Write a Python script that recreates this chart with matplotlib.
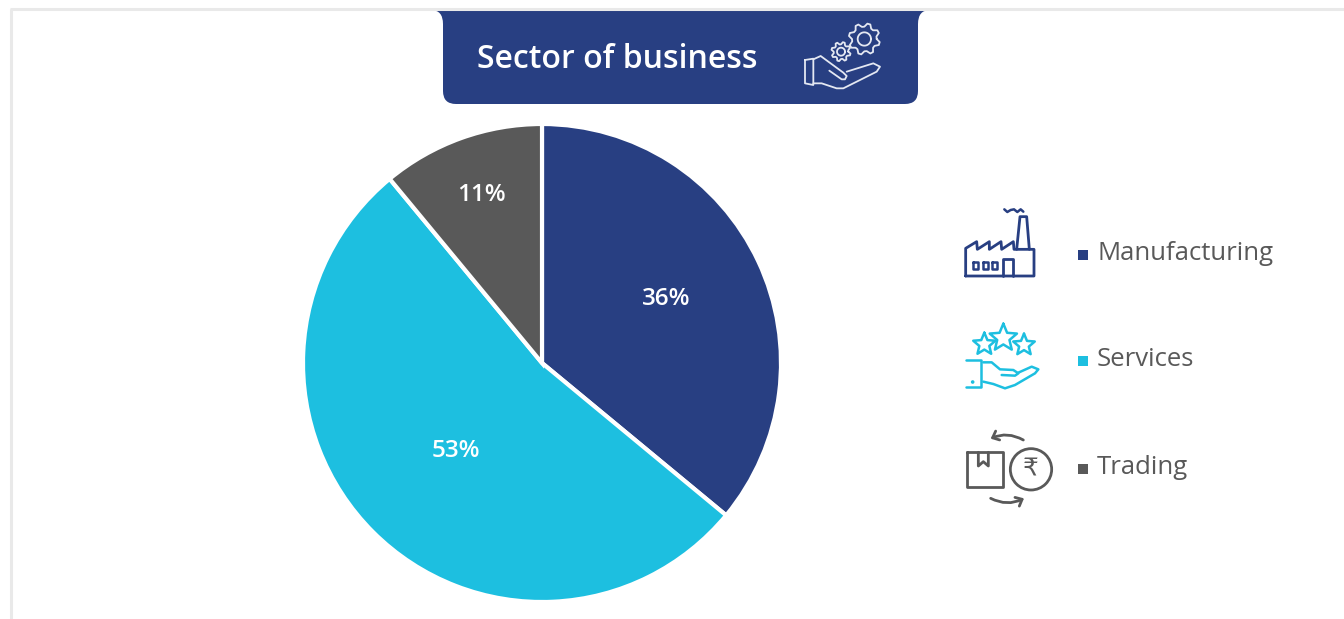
import numpy as np
import matplotlib
matplotlib.use("Agg")
import matplotlib.pyplot as plt
from matplotlib.patches import PathPatch, Rectangle, Circle, Polygon, FancyArrowPatch
from matplotlib.path import Path

# Share of businesses by sector
sectors = ["Manufacturing", "Services", "Trading"]
shares = [36, 53, 11]
share_labels = ["36%", "53%", "11%"]
title = "Sector of business"

NAVY = "#283F82"
CYAN = "#1DBFE0"
GREY = "#595959"
colors = [NAVY, CYAN, GREY]
FONT = ["Open Sans", "DejaVu Sans"]

W, H = 1344, 619
fig = plt.figure(figsize=(W / 100, H / 100), dpi=100, facecolor="white")

# Pixel-addressed layer for the frame, banner, icons and legend
bg = fig.add_axes([0, 0, 1, 1])
bg.set_xlim(0, W)
bg.set_ylim(H, 0)
bg.axis("off")

# Pie axes: centre (542, 363), radius 239 px
cx, cy, r = 542, 363, 239
pie_ax = fig.add_axes([(cx - r) / W, 1 - (cy + r) / H, 2 * r / W, 2 * r / H])
pie_ax.pie(shares, colors=colors, startangle=90, counterclock=False,
           wedgeprops={"edgecolor": "white", "linewidth": 3})
pie_ax.set_xlim(-1, 1)
pie_ax.set_ylim(-1, 1)
pie_ax.patch.set_alpha(0)

# Overlay above the pie for its value labels
top = fig.add_axes([0, 0, 1, 1])
top.set_xlim(0, W)
top.set_ylim(H, 0)
top.axis("off")
top.patch.set_alpha(0)
label_xy = [(666, 299), (456, 451), (481, 195)]
for txt, (x, y) in zip(share_labels, label_xy):
    top.text(x, y, txt, color="white", fontsize=17.5, fontweight="semibold",
             family=FONT, ha="center", va="center")

# Frame lines along the top and left edges
bg.plot([10, W], [9, 9], color="#E9E9E9", lw=2.2, solid_capstyle="butt")
bg.plot([11, 11], [9, H], color="#E9E9E9", lw=2.2, solid_capstyle="butt")

# Title banner with flared top corners and rounded bottom corners
L, R, T, B = 443, 918, 10, 104
verts = [(431, T), (R + 12, T),
         (R, T), (R, T + 14),
         (R, B - 13),
         (R, B), (R - 13, B),
         (L + 13, B),
         (L, B), (L, B - 13),
         (L, T + 14),
         (L, T), (431, T), (431, T)]
codes = [Path.MOVETO, Path.LINETO, Path.CURVE3, Path.CURVE3, Path.LINETO,
         Path.CURVE3, Path.CURVE3, Path.LINETO, Path.CURVE3, Path.CURVE3,
         Path.LINETO, Path.CURVE3, Path.CURVE3, Path.CLOSEPOLY]
bg.add_patch(PathPatch(Path(verts, codes), facecolor=NAVY, edgecolor="none"))
bg.text(617, 59, title, color="white", fontsize=23, fontweight="semibold",
        family=FONT, ha="center", va="center")


def mapper(ox, oy, scale=1 / 3):
    """Convert icon-local units to figure pixels."""
    return lambda pts: [(ox + x * scale, oy + y * scale) for x, y in pts]


def stroke(m, pts, color, lw=2.0, closed=False):
    p = m(pts)
    if closed:
        p = p + [p[0]]
    xs, ys = zip(*p)
    bg.plot(xs, ys, color=color, lw=lw, solid_joinstyle="round",
            solid_capstyle="round")


def gear(m, x, y, ro, ri, hole, teeth, color, lw):
    angles = np.arange(teeth * 4) * 2 * np.pi / (teeth * 4)
    radii = np.tile([ri, ro, ro, ri], teeth)
    pts = list(zip(x + radii * np.cos(angles), y + radii * np.sin(angles)))
    stroke(m, pts, color, lw, closed=True)
    a = np.linspace(0, 2 * np.pi, 40)
    stroke(m, list(zip(x + hole * np.cos(a), y + hole * np.sin(a))), color, lw)


def star(m, x, y, ro, color, lw):
    a = -np.pi / 2 + np.arange(10) * np.pi / 5
    radii = np.tile([ro, ro * 0.45], 5)
    pts = list(zip(x + radii * np.cos(a), y + radii * np.sin(a)))
    stroke(m, pts, color, lw, closed=True)


# Banner icon: open hand holding two gears
m = mapper(430, 0)
c = "#E4E8F2"
gear(m, 1303, 117, 47, 37, 20, 8, c, 1.3)
gear(m, 1233, 155, 29, 22, 12, 8, c, 1.3)
stroke(m, [(1125, 180), (1150, 176), (1150, 255), (1125, 250)], c, 1.3, closed=True)
stroke(m, [(1150, 178), (1172, 168), (1195, 185), (1240, 218), (1250, 228), (1245, 238),
           (1235, 238), (1198, 212)], c, 1.3)
stroke(m, [(1250, 215), (1330, 190), (1350, 200), (1340, 215), (1240, 265),
           (1220, 265), (1175, 250), (1150, 250)], c, 1.3)

# Manufacturing icon: factory with chimney and smoke
m = mapper(950, 200)
stroke(m, [(47, 228), (47, 145), (80, 125), (82, 148), (118, 125), (118, 148),
           (153, 125), (155, 148), (190, 125), (192, 148), (252, 148), (252, 228)],
       NAVY, 2.0, closed=True)
stroke(m, [(200, 148), (210, 50), (230, 50), (238, 148)], NAVY, 2.0)
stroke(m, [(163, 28), (172, 36), (182, 30), (192, 28), (202, 36), (212, 28), (220, 35)], NAVY, 1.8)
for wx in (70, 98, 125):
    stroke(m, [(wx, 187), (wx + 15, 187), (wx + 15, 207), (wx, 207)], NAVY, 1.8, closed=True)
stroke(m, [(158, 228), (158, 178), (188, 178), (188, 228)], NAVY, 2.0)

# Services icon: hand holding three stars
m = mapper(950, 310)
star(m, 103, 103, 35, CYAN, 1.8)
star(m, 160, 84, 43, CYAN, 1.8)
star(m, 222, 105, 34, CYAN, 1.8)
stroke(m, [(48, 150), (92, 150), (92, 232), (48, 232)], CYAN, 1.8)
stroke(m, [(100, 157), (125, 157), (150, 178), (190, 180), (205, 190), (195, 197), (155, 195)], CYAN, 1.8)
stroke(m, [(205, 188), (245, 170), (265, 178), (255, 190), (195, 225), (165, 235),
           (130, 222), (100, 215)], CYAN, 1.8)
bg.add_patch(Circle(m([(68, 216)])[0], 1.1, color=CYAN))

# Trading icon: parcel and rupee coin linked by arrows
m = mapper(950, 420)
stroke(m, [(50, 97), (158, 97), (158, 200), (50, 200)], GREY, 2.0, closed=True)
stroke(m, [(85, 97), (85, 138), (100, 125), (115, 138), (115, 97)], GREY, 2.0)
bx, by = m([(243, 148)])[0]
bg.add_patch(Circle((bx, by), 62 / 3, facecolor="none", edgecolor=GREY, lw=2.0))
bg.text(bx, by, "₹", color=GREY, fontsize=18, family=["DejaVu Sans"], ha="center", va="center")
for start, end, rad in (((220, 60), (122, 56), 0.25), ((122, 235), (222, 235), 0.25)):
    bg.add_patch(FancyArrowPatch(m([start])[0], m([end])[0],
                                 connectionstyle=f"arc3,rad={rad}",
                                 arrowstyle="->,head_length=4,head_width=3.5",
                                 color=GREY, lw=2.0, shrinkA=0, shrinkB=0))

# Legend: colour key and sector name
legend_y = [255, 361, 469]
for name, col, y in zip(sectors, colors, legend_y):
    bg.add_patch(Rectangle((1078, y - 5), 10, 10, facecolor=col, edgecolor="none"))
    bg.text(1097, y - 2, name, color=GREY, fontsize=18.5, family=FONT,
            ha="left", va="center")

fig.savefig("out.png", dpi=100, facecolor="white")
